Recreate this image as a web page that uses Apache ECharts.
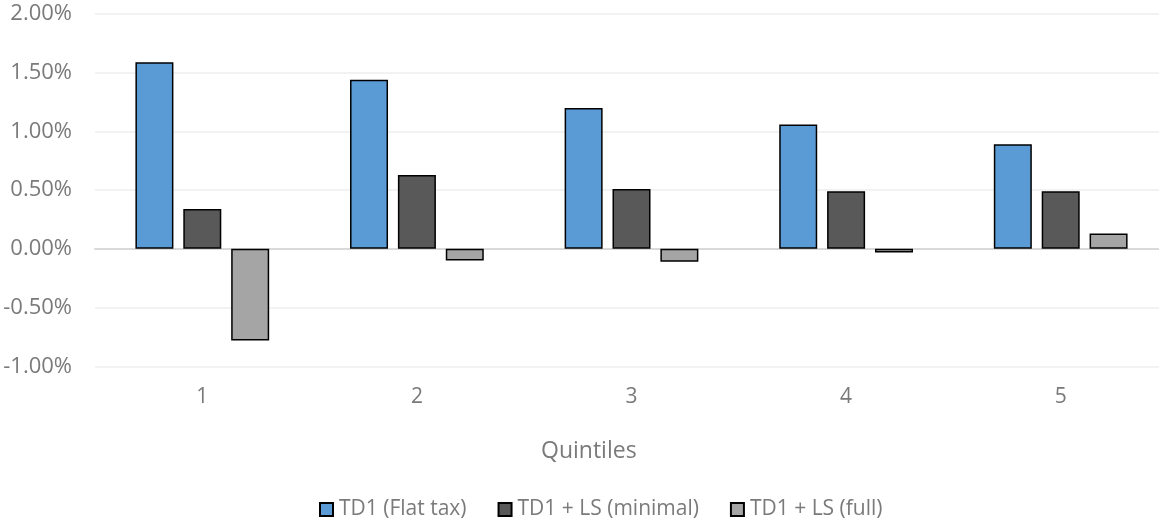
<!DOCTYPE html>
<html>
<head>
<meta charset="utf-8">
<script src="https://cdn.jsdelivr.net/npm/echarts@6/dist/echarts.min.js"></script>
<style>
html,body{margin:0;padding:0;background:#fff;}
#chart{width:1159px;height:523px;}
</style>
</head>
<body>
<div id="chart"></div>
<script>
const categories = ['1', '2', '3', '4', '5'];
const flatTax = [1.59, 1.44, 1.20, 1.06, 0.89];
const lsMinimal = [0.34, 0.63, 0.51, 0.49, 0.49];
const lsFull = [-0.78, -0.10, -0.11, -0.03, 0.13];
const seriesNames = ['TD1 (Flat tax)', 'TD1 + LS (minimal)', 'TD1 + LS (full)'];
const xAxisTitle = 'Quintiles';

const FONT = 'Open Sans';
const TEXT = '#7a7a7a';
const chart = echarts.init(document.getElementById('chart'), null, {renderer: 'canvas'});

function bar(name, data, color) {
  return {
    name: name,
    type: 'bar',
    data: data,
    barWidth: 38,
    barGap: '26%',
    itemStyle: {color: color, borderColor: '#000', borderWidth: 1.5},
    emphasis: {disabled: true}
  };
}

chart.setOption({
  animation: false,
  textStyle: {fontFamily: FONT},
  grid: {left: 95, top: 14, width: 1073, height: 352.3, containLabel: false, outerBoundsMode: 'none'},
  xAxis: [
    {
      type: 'category',
      data: categories,
      position: 'bottom',
      axisLine: {show: false, onZero: false},
      axisTick: {show: false},
      axisLabel: {color: TEXT, fontSize: 21, fontFamily: FONT, margin: 20},
      splitLine: {show: false}
    },
    {
      type: 'category',
      data: categories,
      position: 'bottom',
      axisLine: {show: true, onZero: true, lineStyle: {color: '#d9d9d9', width: 2}},
      axisTick: {show: false},
      axisLabel: {show: false},
      splitLine: {show: false}
    }
  ],
  yAxis: {
    type: 'value',
    min: -1,
    max: 2,
    interval: 0.5,
    axisLine: {show: false},
    axisTick: {show: false},
    axisLabel: {
      color: TEXT, fontSize: 22, fontFamily: FONT, margin: 23,
      formatter: v => v.toFixed(2) + '%'
    },
    splitLine: {lineStyle: {color: '#eeeeee', width: 1.5}}
  },
  legend: {
    left: 314,
    top: 494,
    icon: 'rect',
    itemWidth: 13,
    itemHeight: 13,
    itemGap: 31,
    textStyle: {color: TEXT, fontSize: 21, fontFamily: FONT, padding: [0, 0, 0, 1]},
    data: seriesNames
  },
  graphic: [{
    type: 'text',
    left: 541,
    top: 440,
    style: {text: xAxisTitle, fill: TEXT, font: '23px "Open Sans"'}
  }],
  series: [
    bar(seriesNames[0], flatTax, '#5b9bd5'),
    bar(seriesNames[1], lsMinimal, '#595959'),
    bar(seriesNames[2], lsFull, '#a5a5a5')
  ]
});
</script>
</body>
</html>
